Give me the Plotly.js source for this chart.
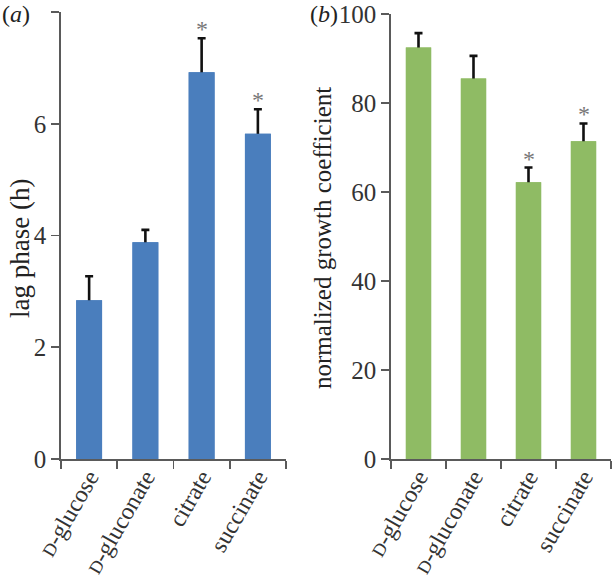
<!DOCTYPE html>
<html>
<head>
<meta charset="utf-8">
<script src="https://cdn.plot.ly/plotly-3.0.1.min.js"></script>
<style>html,body{margin:0;padding:0;background:#fff;}#chart{width:612px;height:579px;}</style>
</head>
<body>
<div id="chart"></div>
<script>
// ---- data ----
var categories = ['D-glucose', 'D-gluconate', 'citrate', 'succinate'];
var tickLabels = ['<span style="font-size:18px">D</span>-glucose', '<span style="font-size:18px">D</span>-gluconate', 'citrate', 'succinate'];
var lagPhase = [2.84, 3.88, 6.92, 5.82];
var lagPhaseErr = [0.43, 0.22, 0.61, 0.44];
var growthCoef = [92.5, 85.5, 62.2, 71.4];
var growthCoefErr = [3.2, 5.1, 3.3, 4.0];
var lagSignif = ['', '', '*', '*'];
var growthSignif = ['', '', '*', '*'];

var FONT = 'Liberation Serif, Times New Roman, serif';
var AXCOL = '#5a5a5a';
var W = 612, H = 579;
var BLUE = '#4a7ebd', GREEN = '#8fbb64';

function errBar(arr){
  return {type:'data', symmetric:true, array:arr, color:'#111', thickness:2.6, width:4};
}

var traces = [
  // bars carrying the error bars (lower half hidden under the overlay bar)
  {type:'bar', x:categories, y:lagPhase, xaxis:'x', yaxis:'y', width:0.46,
   marker:{color:BLUE, line:{width:0}}, error_y:errBar(lagPhaseErr), hoverinfo:'none'},
  {type:'bar', x:categories, y:lagPhase, xaxis:'x', yaxis:'y', width:0.46,
   marker:{color:BLUE, line:{width:0}}, hoverinfo:'none'},
  {type:'bar', x:categories, y:growthCoef, xaxis:'x2', yaxis:'y2', width:0.46,
   marker:{color:GREEN, line:{width:0}}, error_y:errBar(growthCoefErr), hoverinfo:'none'},
  {type:'bar', x:categories, y:growthCoef, xaxis:'x2', yaxis:'y2', width:0.46,
   marker:{color:GREEN, line:{width:0}}, hoverinfo:'none'}
];

var annotations = [];
categories.forEach(function(c, i){
  if (lagSignif[i]) annotations.push({xref:'x', yref:'y', x:c, y:lagPhase[i]+lagPhaseErr[i], text:lagSignif[i],
    showarrow:false, yanchor:'bottom', yshift:-6, font:{family:FONT, size:24, color:'#777777'}});
  if (growthSignif[i]) annotations.push({xref:'x2', yref:'y2', x:c, y:growthCoef[i]+growthCoefErr[i], text:growthSignif[i],
    showarrow:false, yanchor:'bottom', yshift:-6, font:{family:FONT, size:24, color:'#777777'}});
});
// axis titles and panel labels
annotations.push({xref:'paper', yref:'paper', x:20/W, y:1-249/H, text:'lag phase (h)', textangle:-90,
  showarrow:false, xanchor:'center', yanchor:'middle', font:{family:FONT, size:27, color:'#222'}});
annotations.push({xref:'paper', yref:'paper', x:322/W, y:1-238/H, text:'normalized growth coefficient', textangle:-90,
  showarrow:false, xanchor:'center', yanchor:'middle', font:{family:FONT, size:25, color:'#222'}});
annotations.push({xref:'paper', yref:'paper', x:0/W, y:1-14/H, text:'(<i>a</i>)',
  showarrow:false, xanchor:'left', yanchor:'middle', font:{family:FONT, size:24, color:'#222'}});
annotations.push({xref:'paper', yref:'paper', x:308/W, y:1-14/H, text:'(<i>b</i>)',
  showarrow:false, xanchor:'left', yanchor:'middle', font:{family:FONT, size:24, color:'#222'}});

function xax(domain, anchor){
  return {domain:domain, anchor:anchor, type:'category', range:[-0.5, 3.5], showline:true, linecolor:AXCOL, linewidth:1.8,
    ticks:'outside', tickson:'boundaries', ticklen:8, tickwidth:1.8, tickcolor:AXCOL,
    tickangle:-60, tickvals:categories, ticktext:tickLabels, showgrid:false, zeroline:false,
    ticklabelstandoff:-7,
    tickfont:{family:FONT, size:24, color:'#333'}, fixedrange:true};
}
function yax(domain, anchor, range, dtick){
  return {domain:domain, anchor:anchor, range:range, dtick:dtick, tick0:0, showline:true, linecolor:AXCOL, linewidth:1.8,
    ticks:'outside', ticklen:8, tickwidth:1.8, tickcolor:AXCOL, showgrid:false, zeroline:false,
    tickfont:{family:FONT, size:25, color:'#333'}, fixedrange:true};
}

var layout = {
  width:W, height:H, margin:{l:0, r:0, t:0, b:0}, paper_bgcolor:'#fff', plot_bgcolor:'#fff',
  showlegend:false, barmode:'overlay', font:{family:FONT},
  xaxis: xax([61/W, 286/W], 'y'),
  yaxis: yax([1-459/H, 1-12/H], 'x', [0, 8], 2),
  xaxis2: xax([391/W, 611/W], 'y2'),
  yaxis2: yax([1-459/H, 1-14/H], 'x2', [0, 100], 20),
  annotations: annotations
};

Plotly.newPlot('chart', traces, layout, {displayModeBar:false, staticPlot:true});
</script>
</body>
</html>
